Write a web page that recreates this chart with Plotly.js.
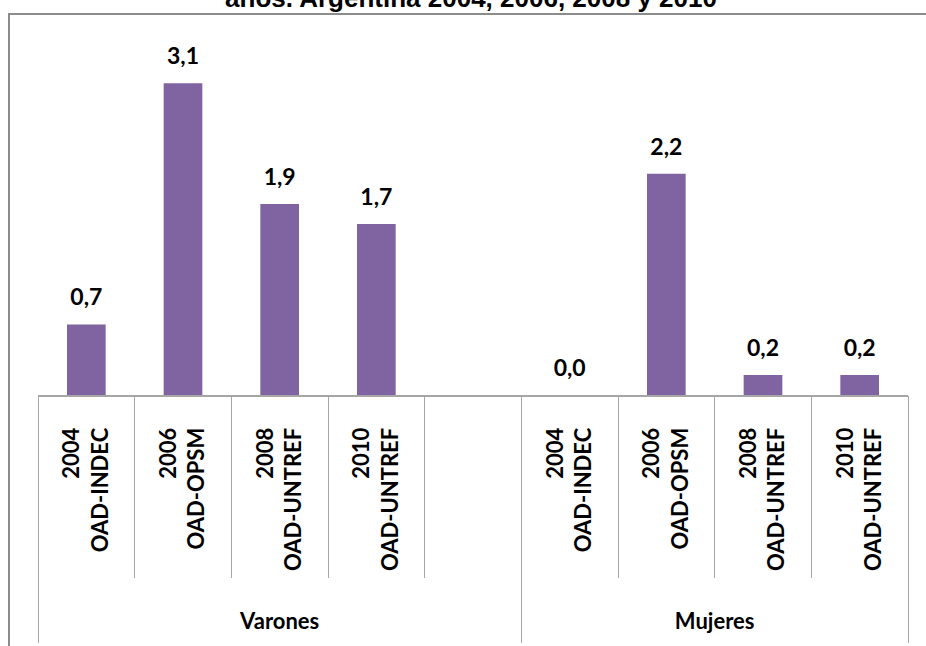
<!DOCTYPE html>
<html>
<head>
<meta charset="utf-8">
<script src="https://cdn.plot.ly/plotly-3.0.1.min.js"></script>
<style>
html,body{margin:0;padding:0;background:#fff;}
#chart{width:926px;height:646px;}
</style>
</head>
<body>
<div id="chart"></div>
<script>
// ---- data ----
var groups = ["Varones", "Varones", "Varones", "Varones", "Varones", "Mujeres", "Mujeres", "Mujeres", "Mujeres"];
var studies = ["2004<br>OAD-INDEC", "2006<br>OAD-OPSM", "2008<br>OAD-UNTREF", "2010<br>OAD-UNTREF", " ",
               "2004<br>OAD-INDEC", "2006<br>OAD-OPSM", "2008<br>OAD-UNTREF", "2010<br>OAD-UNTREF"];
var values = [0.7, 3.1, 1.9, 1.7, null, 0.0, 2.2, 0.2, 0.2];
var titleText = "años. Argentina 2004, 2006, 2008 y 2010";

// ---- styling ----
var purple = "#8064A2";
var gray = "#a6a6a6";
var labelFont = {family: "Lato, 'Noto Sans', sans-serif", size: 22, color: "#000", weight: "bold"};
var valueFont = {family: "Lato, 'Noto Sans', sans-serif", size: 23, color: "#000", weight: "bold"};

// ---- derived helpers (from the arrays above) ----
var n = groups.length;
var slotKeys = groups.map(function (g, i) { return g + "|" + i; });
var groupNames = [], groupCenters = [], groupBounds = [];
groups.forEach(function (g, i) {
  var k = groupNames.indexOf(g);
  if (k < 0) { groupNames.push(g); groupCenters.push([i, i]); }
  else { groupCenters[k][1] = i; }
});
groupCenters = groupCenters.map(function (r) {
  if (groupBounds.indexOf(r[0] - 0.5) < 0) groupBounds.push(r[0] - 0.5);
  if (groupBounds.indexOf(r[1] + 0.5) < 0) groupBounds.push(r[1] + 0.5);
  return (r[0] + r[1]) / 2;
});

var bars = {
  type: "bar",
  x: slotKeys,
  y: values,
  marker: {color: purple},
  hoverinfo: "skip",
  xaxis: "x",
  yaxis: "y"
};

var valueLabels = {
  type: "scatter",
  mode: "markers+text",
  x: slotKeys,
  y: values,
  texttemplate: "%{y:.1f}",
  textposition: "top center",
  textfont: valueFont,
  marker: {size: 20, opacity: 0},
  hoverinfo: "skip",
  cliponaxis: false,
  xaxis: "x2",
  yaxis: "y"
};

// invisible anchors so the group axes exist
var groupAnchor = {
  type: "scatter", mode: "markers",
  x: groupCenters, y: groupCenters.map(function () { return 0; }),
  marker: {opacity: 0}, hoverinfo: "skip", cliponaxis: true,
  xaxis: "x3", yaxis: "y"
};
var boundAnchor = {
  type: "scatter", mode: "markers",
  x: groupBounds, y: groupBounds.map(function () { return 0; }),
  marker: {opacity: 0}, hoverinfo: "skip", cliponaxis: true,
  xaxis: "x4", yaxis: "y"
};

var layout = {
  width: 926,
  height: 646,
  margin: {l: 38, r: 18, t: 30, b: 251},
  paper_bgcolor: "#fff",
  plot_bgcolor: "#fff",
  showlegend: false,
  separators: ",.",
  bargap: 0.6,
  title: {
    text: titleText,
    font: {family: "'Liberation Sans', Arial, sans-serif", size: 26, color: "#000", weight: "bold"},
    xref: "container", yref: "container",
    x: 471 / 926, xanchor: "center",
    y: 1 - 7 / 646, yanchor: "bottom"
  },
  // study labels (inner level)
  xaxis: {
    type: "category",
    range: [-0.5, n - 0.5],
    tickmode: "array", tickvals: slotKeys, ticktext: studies,
    showline: true, linecolor: gray, linewidth: 2,
    ticks: "outside", ticklen: 22, tickcolor: "rgba(0,0,0,0)",
    tickangle: -90,
    tickfont: labelFont,
    showgrid: false, zeroline: false,
    fixedrange: true
  },
  // short separators between studies
  xaxis2: {
    type: "category",
    overlaying: "x", anchor: "y", side: "bottom",
    range: [-0.5, n - 0.5],
    tickson: "boundaries",
    ticks: "outside", ticklen: 182, tickwidth: 1, tickcolor: gray,
    showticklabels: false,
    showline: false, showgrid: false, zeroline: false,
    fixedrange: true
  },
  // group labels (outer level)
  xaxis3: {
    type: "linear",
    overlaying: "x", anchor: "y", side: "bottom",
    range: [-0.5, n - 0.5],
    tickmode: "array", tickvals: groupCenters, ticktext: groupNames,
    ticks: "outside", ticklen: 207, tickcolor: "rgba(0,0,0,0)",
    tickfont: labelFont,
    showline: false, showgrid: false, zeroline: false,
    fixedrange: true
  },
  // long group dividers
  xaxis4: {
    type: "linear",
    overlaying: "x", anchor: "y", side: "bottom",
    range: [-0.5, n - 0.5],
    tickmode: "array", tickvals: groupBounds,
    ticks: "outside", ticklen: 247, tickwidth: 1, tickcolor: gray,
    showticklabels: false,
    showline: false, showgrid: false, zeroline: false,
    fixedrange: true
  },
  yaxis: {
    range: [0, 3.63],
    visible: false,
    showgrid: false, zeroline: false,
    fixedrange: true
  },
  shapes: [{
    type: "rect", xref: "paper", yref: "paper",
    x0: (9 - 38) / 870, x1: 1.05, y0: -1.5, y1: (395 - 14) / 365,
    line: {color: "#8c8c8c", width: 2},
    fillcolor: "rgba(0,0,0,0)",
    layer: "below"
  }]
};

Plotly.newPlot("chart", [bars, valueLabels, groupAnchor, boundAnchor], layout, {displayModeBar: false, staticPlot: true});
</script>
</body>
</html>
